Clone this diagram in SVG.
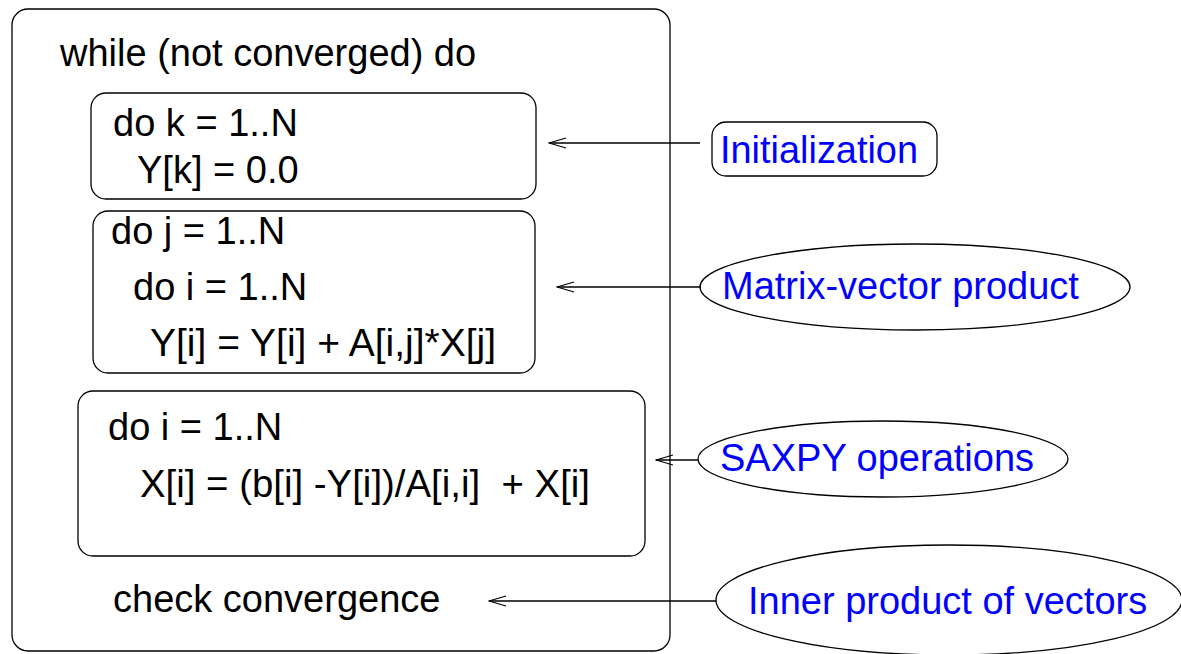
<svg xmlns="http://www.w3.org/2000/svg" width="1181" height="654" viewBox="0 0 1181 654">
<defs>
<style>
.box{fill:none;stroke:#000;stroke-width:1.3}
.t{font-family:"Liberation Sans",Arial,sans-serif;font-size:38px;fill:#000}
.b{font-family:"Liberation Sans",Arial,sans-serif;font-size:38px;fill:#0000ff}
.c{stroke:#000;stroke-width:1.3;fill:none}
</style>
<marker id="ah" viewBox="0 0 20 12" refX="19" refY="6" markerWidth="20" markerHeight="12" markerUnits="userSpaceOnUse" orient="auto">
<path d="M2,1 L19,6 L2,11" fill="none" stroke="#000" stroke-width="1.2"/>
</marker>
</defs>
<rect width="1181" height="654" fill="#fff"/>
<g id="outer">
<rect class="box" x="12" y="9" width="658" height="642" rx="16"/>
<text class="t" x="60" y="66">while (not converged) do</text>
<text class="t" x="113" y="612">check convergence</text>
</g>
<g id="init-block">
<rect class="box" x="91" y="93" width="445" height="106" rx="15"/>
<text class="t" x="113" y="136">do k = 1..N</text>
<text class="t" x="137" y="183">Y[k] = 0.0</text>
</g>
<g id="matvec-block">
<rect class="box" x="93" y="211" width="442" height="162" rx="15"/>
<text class="t" x="111" y="244">do j = 1..N</text>
<text class="t" x="133" y="300">do i = 1..N</text>
<text class="t" x="150" y="356" textLength="346" lengthAdjust="spacingAndGlyphs">Y[i] = Y[i] + A[i,j]*X[j]</text>
</g>
<g id="saxpy-block">
<rect class="box" x="78" y="391" width="567" height="165" rx="15"/>
<text class="t" x="108" y="440">do i = 1..N</text>
<text class="t" x="140" y="497" xml:space="preserve" textLength="450" lengthAdjust="spacingAndGlyphs">X[i] = (b[i] -Y[i])/A[i,i]  + X[i]</text>
</g>
<g id="label-init">
<rect class="box" x="712" y="122" width="225" height="54" rx="14"/>
<text class="b" x="720" y="163" textLength="198" lengthAdjust="spacingAndGlyphs">Initialization</text>
</g>
<g id="label-matvec">
<ellipse class="box" cx="915" cy="287" rx="215" ry="43"/>
<text class="b" x="722" y="299">Matrix-vector product</text>
</g>
<g id="label-saxpy">
<ellipse class="box" cx="883" cy="459" rx="185" ry="38"/>
<text class="b" x="720" y="471">SAXPY operations</text>
</g>
<g id="label-inner">
<ellipse class="box" cx="949" cy="600" rx="233" ry="55"/>
<text class="b" x="748" y="614">Inner product of vectors</text>
</g>
<g id="connectors">
<line class="c" x1="700" y1="143" x2="549" y2="143" marker-end="url(#ah)"/>
<line class="c" x1="701" y1="287" x2="557" y2="287" marker-end="url(#ah)"/>
<line class="c" x1="698" y1="460" x2="656" y2="460" marker-end="url(#ah)"/>
<line class="c" x1="716" y1="601" x2="489" y2="601" marker-end="url(#ah)"/>
</g>
</svg>
